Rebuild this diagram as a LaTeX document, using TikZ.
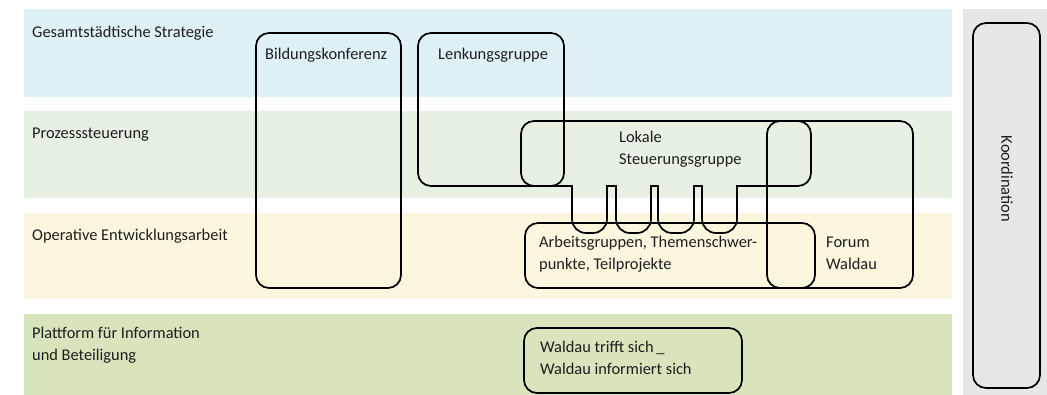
\documentclass[tikz,border=0pt]{standalone}
\usepackage{fontspec}
\setmainfont{Carlito}
\definecolor{strategieblau}{HTML}{E0F0F7}
\definecolor{prozessgruen}{HTML}{E6F0E3}
\definecolor{operativgelb}{HTML}{FDF6DE}
\definecolor{plattformgruen}{HTML}{D8E4BC}
\definecolor{koordgrau}{HTML}{E6E7E9}
\definecolor{schrift}{HTML}{1E1E1E}

\begin{document}
\begin{tikzpicture}[x=1pt,y=-1pt,
	kasten/.style={line width=1.7pt,rounded corners=13pt,line cap=rect},
	beschriftung/.style={anchor=west,inner sep=0pt,align=left,text=schrift,font=\fontsize{16.4}{22}\selectfont}]
	\useasboundingbox (0,0) rectangle (1047,395);
	\fill[strategieblau] (24,9) rectangle (952,97);
	\fill[prozessgruen] (24,111) rectangle (952,198);
	\fill[operativgelb] (24,213) rectangle (952,299);
	\fill[plattformgruen] (24,314) rectangle (952,395);
	\fill[koordgrau] (963,9) rectangle (1047,395);
	\draw[kasten] (973,23) rectangle (1040,388);
	\draw[kasten] (256,33) rectangle (401,288);
	\draw[kasten] (418,33) rectangle (564,186);
	\draw[kasten] (525,223) rectangle (815,288);
	\draw[kasten] (767,121) rectangle (913,288);
	\draw[kasten] (524,328) rectangle (742,393);
	\draw[kasten] (572,186) -- (521,186) -- (521,121) -- (811,121) -- (811,186) -- (737,186);
	\foreach \a/\b in {572/607,616/651,658/694,702/737}
		\draw[kasten,rounded corners=14pt] (\a,186) -- (\a,233) -- (\b,233) -- (\b,186);
	\foreach \a/\b in {607/616,651/658,694/702}
		\draw[kasten] (\a,186) -- (\b,186);
	\node[beschriftung] (strategie) at (32,33) {Gesamtstädtische Strategie};
	\node[beschriftung] (prozess) at (32,135) {Prozesssteuerung};
	\node[beschriftung] (operativ) at (32,236) {Operative Entwicklungsarbeit};
	\node[beschriftung] (plattform) at (32,345.5) {Plattform für Information\\und Beteiligung};
	\node[beschriftung] (bildung) at (265,55) {Bildungskonferenz};
	\node[beschriftung] (lenkung) at (438,55) {Lenkungsgruppe};
	\node[beschriftung] (lokal) at (619,149) {Lokale\\Steuerungsgruppe};
	\node[beschriftung] (arbeit) at (539,254) {Arbeitsgruppen, Themenschwer-\\punkte, Teilprojekte};
	\node[beschriftung] (forum) at (826,253.5) {Forum\\Waldau};
	\node[beschriftung] (treffen) at (540,357.5) {Waldau trifft sich\,\_\\Waldau informiert sich};
	\node[beschriftung,anchor=center,rotate=-90] (koordination) at (1007,179) {Koordination};
\end{tikzpicture}
\end{document}
